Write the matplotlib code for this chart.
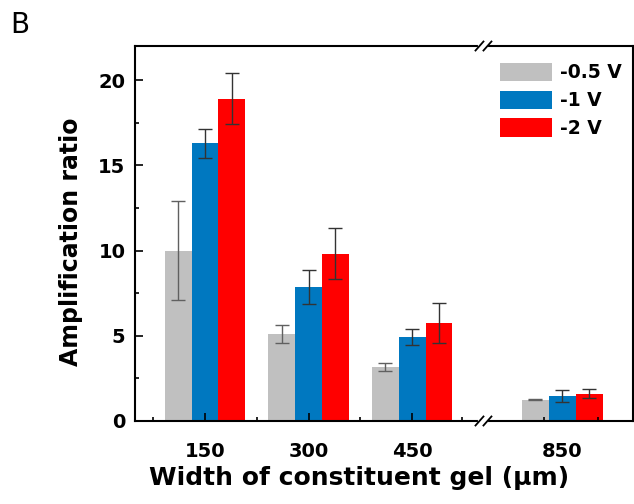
import numpy as np
import matplotlib.pyplot as plt

plt.rcParams['font.family'] = ['DejaVu Sans']

widths = ['150', '300', '450', '850']
xpos = np.array([0, 1, 2, 3.45])
voltages = ['-0.5 V', '-1 V', '-2 V']
colors = ['#c0c0c0', '#0078c0', '#ff0000']

vals = [[10.0, 5.1, 3.16, 1.24],
        [16.3, 7.86, 4.94, 1.47],
        [18.9, 9.82, 5.75, 1.61]]
errs = [[2.9, 0.55, 0.25, 0.03],
        [0.85, 1.0, 0.47, 0.33],
        [1.5, 1.5, 1.2, 0.27]]
ecolors = ['#606060', '#333333', '#333333']

fig = plt.figure(figsize=(6.34, 5.04), dpi=100)
ax = fig.add_axes([0.213, 0.1647, 0.7855, 0.744])

w = 0.26
for i in range(3):
    ax.bar(xpos + (i - 1) * w, vals[i], w, yerr=errs[i], color=colors[i],
           label=voltages[i], edgecolor='none',
           error_kw=dict(ecolor=ecolors[i], elinewidth=1, capsize=4.7, capthick=1))

ax.set_xlim(-0.676, 4.135)
ax.set_ylim(0, 22)

ax.set_yticks([0, 5, 10, 15, 20])
ax.set_yticks([2.5, 7.5, 12.5, 17.5], minor=True)
ax.set_xticks(xpos)
ax.set_xticklabels(widths)
ax.set_xticks([-0.5, 0.5, 1.5, 2.48, 3.275, 3.8], minor=True)
ax.xaxis.get_major_ticks()[3].tick1line.set_visible(False)
ax.xaxis.get_minor_ticks()[5].tick1line.set_markersize(6)

ax.tick_params(which='major', direction='in', length=6, width=1.2,
               labelsize=14, pad=7)
ax.tick_params(which='minor', direction='in', length=3, width=1.2)
for lab in ax.get_xticklabels() + ax.get_yticklabels():
    lab.set_fontweight('bold')
ax.tick_params(axis='x', pad=15)

for s in ax.spines.values():
    s.set_linewidth(1.5)

# axis break marks
xb = (2.69 + 0.676) / (4.135 + 0.676)
for yb in (0, 1):
    ax.plot([xb - 0.006, xb + 0.006], [yb, yb], color='white', lw=3,
            transform=ax.transAxes, clip_on=False, zorder=5)
    for dx in (-0.008, 0.008):
        ax.plot([xb + dx - 0.008, xb + dx + 0.008], [yb - 0.012, yb + 0.012],
                color='black', lw=1.3, transform=ax.transAxes,
                clip_on=False, zorder=6)

ax.set_xlabel('Width of constituent gel (\u03bcm)', fontsize=18,
              fontweight='bold', x=0.45, labelpad=4)
ax.set_ylabel('Amplification ratio', fontsize=17, fontweight='bold',
              y=0.477, labelpad=11)

ax.legend(loc='upper right', frameon=False,
          prop=dict(weight='bold', size=13.5), handlelength=2.77,
          handleheight=1.12, labelspacing=0.44, handletextpad=0.4,
          bbox_to_anchor=(0.999, 0.985), borderaxespad=0.2)

fig.text(0.016, 0.935, 'B', fontsize=20)

fig.savefig('out.png', dpi=100)
